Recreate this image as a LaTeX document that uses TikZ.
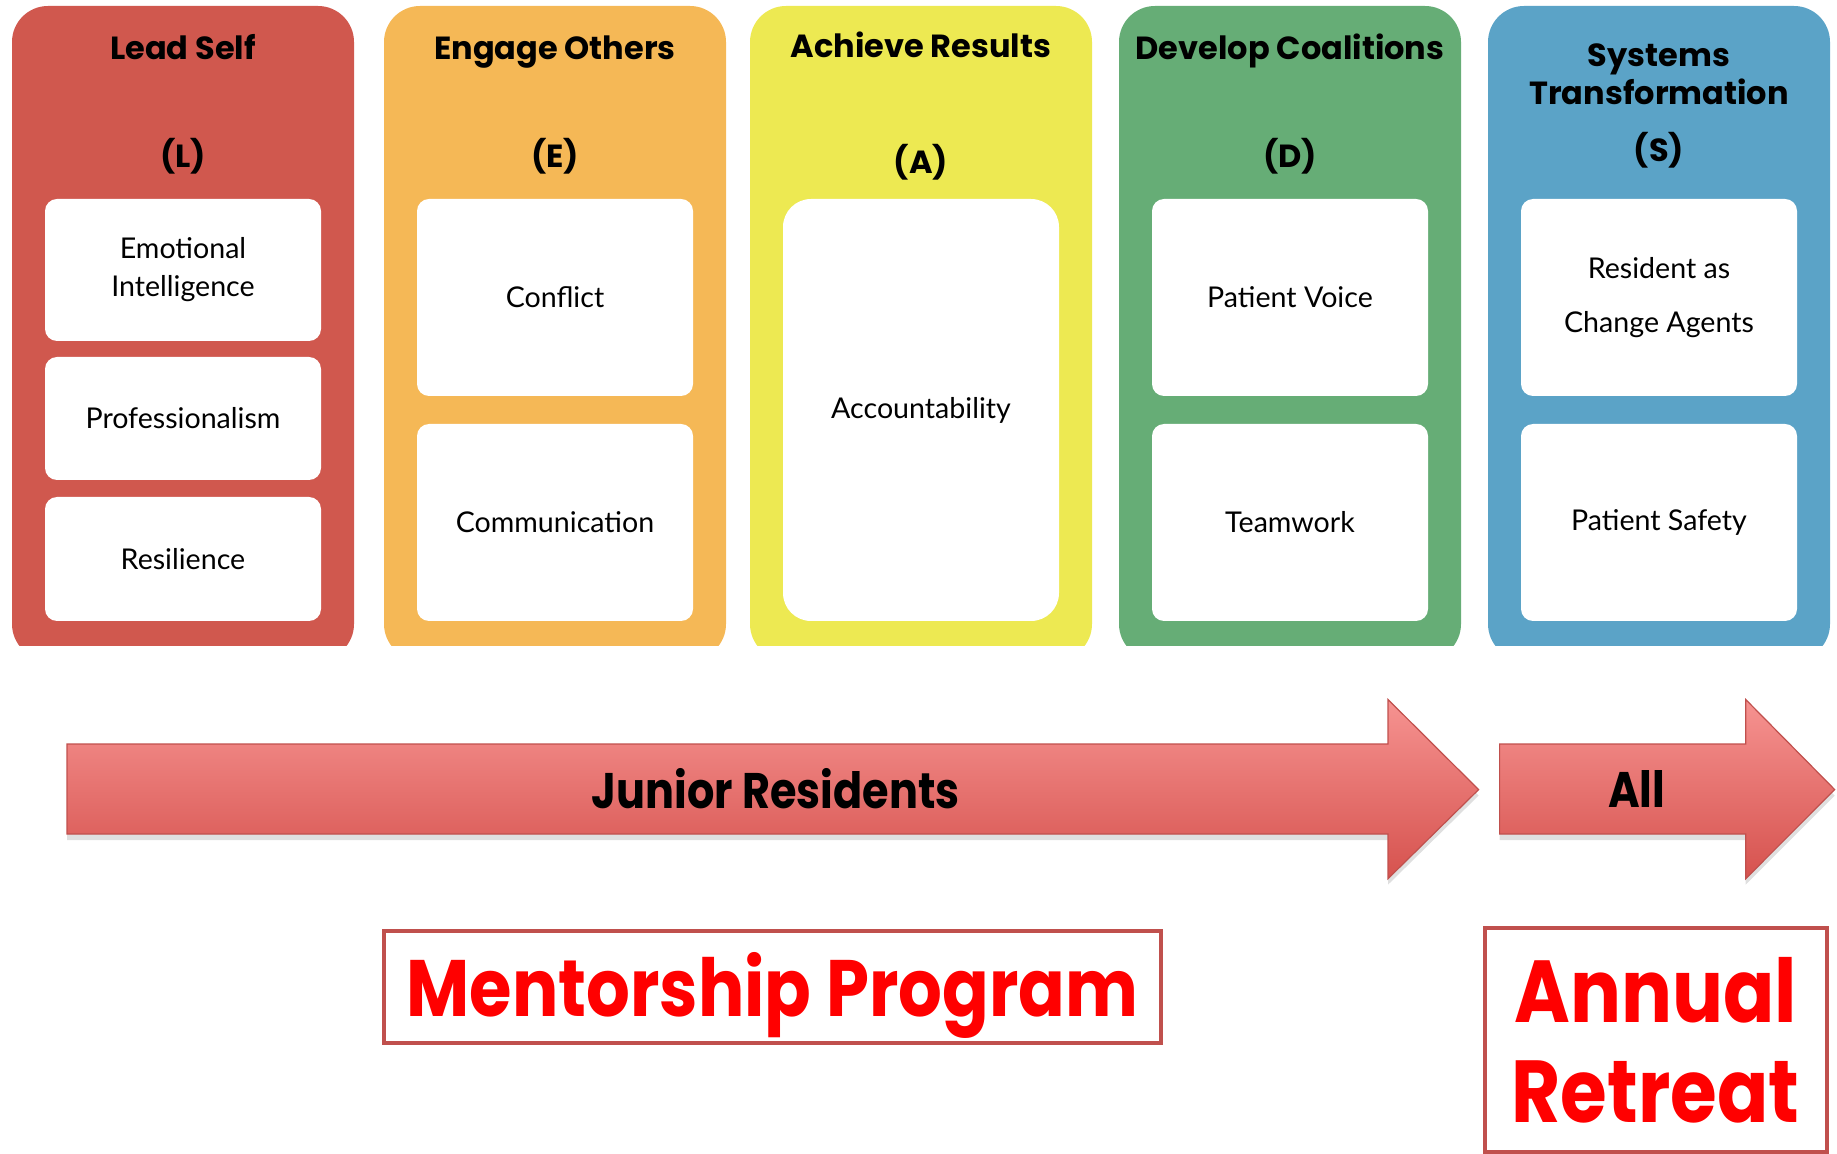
\documentclass[tikz,border=0pt]{standalone}
\usepackage{fontspec}
\setmainfont{Lato}
\newfontfamily\headfont{Poppins}
\newfontfamily\gothfont[FakeStretch=0.86]{Poppins}
\usetikzlibrary{shadows}
\definecolor{leadred}{RGB}{208,88,78}
\definecolor{engorange}{RGB}{245,184,86}
\definecolor{achyellow}{RGB}{237,233,82}
\definecolor{devgreen}{RGB}{102,173,118}
\definecolor{sysblue}{RGB}{91,163,199}
\definecolor{bandtop}{RGB}{246,147,145}
\definecolor{bandbottom}{RGB}{214,82,78}
\definecolor{bandedge}{RGB}{192,80,77}
\definecolor{tagedge}{RGB}{192,80,77}

\begin{document}
\begin{tikzpicture}[x=0.5pt, y=-0.5pt,
colbox/.style = {rectangle, rounded corners=18pt, minimum width=171pt, minimum height=327pt, inner sep=0pt},
coltitle/.style = {align=center, font=\headfont\bfseries\fontsize{16}{18.75}\selectfont},
item/.style = {rectangle, rounded corners=6pt, fill=white, minimum width=138pt, inner sep=0pt, align=center, font=\fontsize{14.3}{19}\selectfont},
band/.style = {draw=bandedge, line width=0.6pt, top color=bandtop, bottom color=bandbottom, drop shadow={shadow xshift=0pt, shadow yshift=-3pt, opacity=0.25}},
bandtext/.style = {font=\gothfont\bfseries\fontsize{25}{30}\selectfont},
tagbox/.style = {rectangle, draw=tagedge, line width=2pt, fill=white, inner sep=0pt, text=red, align=center}]
\useasboundingbox (0,0) rectangle (1837,1154);
\begin{scope}
\clip (0,0) rectangle (1837,646);
\node[colbox, fill=leadred] at (183,333) (lead) {};
\node[colbox, fill=engorange] at (555,333) (engage) {};
\node[colbox, fill=achyellow] at (921,333) (achieve) {};
\node[colbox, fill=devgreen] at (1290,333) (develop) {};
\node[colbox, fill=sysblue] at (1659,333) (systems) {};
\end{scope}
\node[coltitle] at (183,47) (leadt) {Lead Self};
\node[coltitle] at (183,156) (leadl) {(L)};
\node[coltitle] at (555,52) (engaget) {Engage Others};
\node[coltitle] at (555,156) (engagel) {(E)};
\node[coltitle] at (921,45) (achievet) {Achieve Results};
\node[coltitle] at (921,162) (achievel) {(A)};
\node[coltitle] at (1290,51) (developt) {Develop Coalitions};
\node[coltitle] at (1290,156) (developl) {(D)};
\node[coltitle] at (1659,74) (systemst) {Systems\\Transformation};
\node[coltitle] at (1659,150) (systemsl) {(S)};
\node[item, minimum height=71pt] at (183,270) (emo) {Emotional\\Intelligence};
\node[item, minimum height=61.5pt] at (183,418.5) (prof) {Professionalism};
\node[item, minimum height=62pt] at (183,559) (resil) {Resilience};
\node[item, minimum height=98.5pt] at (555,297.5) (confl) {Conflict};
\node[item, minimum height=98.5pt] at (555,522.5) (comm) {Communication};
\node[item, rounded corners=14pt, minimum height=211pt] at (921,410) (acc) {Accountability};
\node[item, minimum height=98.5pt] at (1290,297.5) (voice) {Patient Voice};
\node[item, minimum height=98.5pt] at (1290,522.5) (team) {Teamwork};
\node[item, minimum height=98.5pt, font=\fontsize{14.3}{27}\selectfont] at (1659,297.5) (agents) {Resident as\\Change Agents};
\node[item, minimum height=98.5pt] at (1659,522.5) (safety) {Patient Safety};
\draw[band] (67,744) -- (1388,744) -- (1388,699.5) -- (1478.6,789.6) -- (1388,878.7) -- (1388,834) -- (67,834) -- cycle;
\draw[band] (1499.6,744) -- (1745.7,744) -- (1745.7,699.5) -- (1834.7,789.6) -- (1745.7,878.7) -- (1745.7,834) -- (1499.6,834) -- cycle;
\node[bandtext] at (775.6,789) (junior) {Junior Residents};
\node[bandtext] at (1636.7,789) (all) {All};
\node[tagbox, minimum width=388.5pt, minimum height=56pt, text depth=3pt, font=\gothfont\bfseries\fontsize{40}{45}\selectfont] at (772.5,987) (mentor) {Mentorship Program};
\node[tagbox, minimum width=171pt, minimum height=112pt, font=\gothfont\bfseries\fontsize{44}{50}\selectfont] at (1655.5,1040) (retreat) {Annual\\Retreat};
\end{tikzpicture}
\end{document}
